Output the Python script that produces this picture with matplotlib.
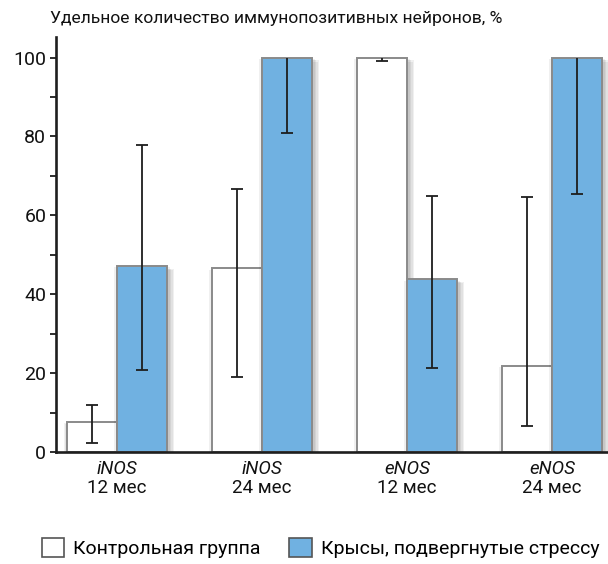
import numpy as np
import matplotlib
matplotlib.use("Agg")
import matplotlib.pyplot as plt
import matplotlib.patheffects as pe
from matplotlib.patches import Patch
from matplotlib.ticker import MultipleLocator
from matplotlib.transforms import Bbox, TransformedBbox

plt.rcParams["font.family"] = ["Roboto", "DejaVu Sans"]

# Группы: фермент и возраст
enzymes = ["iNOS", "iNOS", "eNOS", "eNOS"]
ages = ["12 мес", "24 мес", "12 мес", "24 мес"]

# Контрольная группа: среднее и границы разброса
control = [7.7, 46.6, 100.0, 21.8]
control_lo = [2.4, 19.1, 99.0, 6.7]
control_hi = [12.0, 66.7, 101.0, 64.6]

# Крысы, подвергнутые стрессу
stress = [47.2, 100.0, 43.8, 100.0]
stress_lo = [20.9, 80.9, 21.2, 65.3]
stress_hi = [77.8, 119.1, 64.9, 134.7]

BLUE = "#70b1e1"
EDGE = "#8a8a8a"
INK = "#1e1e1e"

fig = plt.figure(figsize=(6.08, 5.64), dpi=100)
ax = fig.add_axes([56 / 608, 1 - 452 / 564, 1 - 56 / 608, (452 - 37) / 564])

x = np.arange(len(enzymes))
w = 0.345

# мягкая тень вокруг столбиков
shadow = [pe.SimplePatchShadow(offset=(dx, dy), shadow_rgbFace="k", alpha=0.06)
          for dx, dy in [(-2, -1), (2, -1), (3, -2), (-1, -2), (4, -3), (1, -3), (5, -2)]]
shadow.append(pe.Normal())

b1 = ax.bar(x - w / 2, control, w, color="white", edgecolor=EDGE, linewidth=1.4, zorder=2)
b2 = ax.bar(x + w / 2, stress, w, color=BLUE, edgecolor=EDGE, linewidth=1.4, zorder=2)
for bar in list(b1) + list(b2):
    bar.set_path_effects(shadow)

# планки погрешностей обрезаются на уровне 100 %
clip = TransformedBbox(Bbox([[-1, -5], [5, 100]]), ax.transData)
for pos, vals, lo, hi in [(x - w / 2, control, control_lo, control_hi),
                          (x + w / 2, stress, stress_lo, stress_hi)]:
    vals = np.array(vals)
    err = [vals - np.array(lo), np.array(hi) - vals]
    eb = ax.errorbar(pos, vals, yerr=err, fmt="none", ecolor=INK,
                     elinewidth=1.3, capsize=4.5, capthick=1.3, zorder=3)
    for art in list(eb.lines[1]) + list(eb.lines[2]):
        art.set_clip_box(clip)

ax.set_xlim(-0.42, 3.386)
ax.set_ylim(0, 105.2)

for s in ["top", "right"]:
    ax.spines[s].set_visible(False)
for s in ["left", "bottom"]:
    ax.spines[s].set_linewidth(1.9)
    ax.spines[s].set_color(INK)

ax.yaxis.set_major_locator(MultipleLocator(20))
ax.yaxis.set_minor_locator(MultipleLocator(10))
ax.tick_params(axis="y", which="both", length=4, width=1.3, color=INK,
               labelsize=14, pad=3, labelcolor="#111")
ax.set_xticks([])

for i in range(len(enzymes)):
    ax.text(x[i], -0.042, enzymes[i], transform=ax.get_xaxis_transform(),
            ha="center", va="center", fontsize=13.5, style="italic", color="#111")
    ax.text(x[i], -0.086, ages[i], transform=ax.get_xaxis_transform(),
            ha="center", va="center", fontsize=13.5, color="#111")

fig.text(50 / 608, 1 - 18 / 564, "Удельное количество иммунопозитивных нейронов, %",
         ha="left", va="center", fontsize=12.6, color="#111")

handles = [Patch(facecolor="white", edgecolor="#555", linewidth=1.2),
           Patch(facecolor=BLUE, edgecolor="#555", linewidth=1.2)]
fig.legend(handles, ["Контрольная группа", "Крысы, подвергнутые стрессу"],
           loc="lower left", bbox_to_anchor=(30 / 608, -0.01), ncol=2, frameon=False,
           fontsize=14, handlelength=1.15, handleheight=1.15, handletextpad=0.45,
           columnspacing=1.5, borderaxespad=0.2)

fig.savefig("out.png", dpi=100)
